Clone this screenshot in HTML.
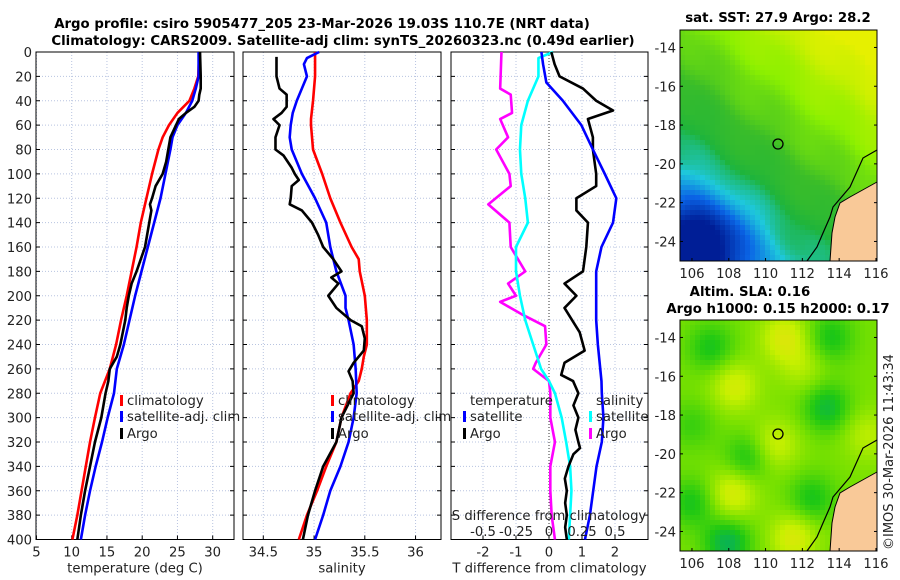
<!DOCTYPE html>
<html><head><meta charset="utf-8">
<style>
html,body{margin:0;padding:0;background:#fff;}
svg{display:block;font-family:"DejaVu Sans","Liberation Sans",sans-serif;}
.t{font-size:13.2px;fill:#222;}
.b{font-size:13.3px;font-weight:bold;fill:#000;}
.grid line{stroke:#b8c4e0;stroke-width:1;stroke-dasharray:1 2;}
</style></head><body>
<svg id="c" width="900" height="580" viewBox="0 0 900 580">
<text class="b" x="322" y="28" text-anchor="middle">Argo profile: csiro 5905477_205 23-Mar-2026 19.03S 110.7E (NRT data)</text>
<text class="b" x="343" y="45" text-anchor="middle">Climatology: CARS2009. Satellite-adj clim: synTS_20260323.nc (0.49d earlier)</text>
<g id="p1"></g>
<g id="p2"></g>
<g id="p3"></g>
<g id="m1"></g>
<g id="m2"></g>
<text class="b" x="778" y="22" text-anchor="middle">sat. SST: 27.9 Argo: 28.2</text>
<text class="b" x="750" y="296" text-anchor="middle">Altim. SLA: 0.16</text>
<text class="b" x="778" y="313" text-anchor="middle">Argo h1000: 0.15 h2000: 0.17</text>
<text class="t" x="0" y="0" transform="translate(893,550) rotate(-90)" style="font-size:13px">©IMOS 30-Mar-2026 11:43:34</text>
</svg>
<script>
const depths=[0,20,30,40,50,60,70,80,100,120,140,160,180,200,220,240,260,280,300,320,340,360,380,400];
const tClim=[28.1,27.95,27.4,26.7,25,23.8,22.9,22.3,21.4,20.6,19.8,19.2,18.5,17.8,17.0,16.3,15.4,14.05,13.3,12.6,12.0,11.4,10.8,10.1];
const tSat=[28,28,27.6,27.1,26.2,25,24.3,24,23.3,22.6,21.7,20.8,19.9,19.0,18.2,17.4,16.4,16.0,15.1,14.3,13.4,12.6,11.9,11.3];
const argoDepths=[0,20,30,35,40,45,50,55,60,70,80,90,100,110,120,125,130,140,160,175,180,190,195,200,210,220,240,250,260,270,280,300,320,340,360,380,400];
const tArgo=[28.2,28.3,28.3,28.1,28,27.4,26.2,25.2,24.8,24,23.7,23.4,22.9,21.9,21.4,21.1,21.3,21,20.4,19.5,19.2,18.5,18.3,18.1,17.8,17.6,16.9,16.4,15.4,15.2,14.8,14.2,13.3,12.6,11.9,11.3,10.8];
const sClimDepths=[0,20,40,55,60,80,100,120,140,160,170,180,200,220,240,250,260,270,280,300,320,340,360,380,400];
const sClim=[35.01,35.01,34.99,34.97,34.97,34.99,35.08,35.16,35.26,35.37,35.44,35.45,35.5,35.52,35.52,35.49,35.47,35.44,35.36,35.27,35.22,35.12,35.03,34.93,34.85];
const sSatDepths=[0,5,10,20,30,40,50,60,70,80,100,120,140,160,180,200,210,220,240,260,280,300,320,340,360,380,400];
const sSat=[35.05,34.93,34.9,34.93,34.88,34.83,34.79,34.77,34.76,34.78,34.88,35.01,35.12,35.16,35.22,35.31,35.31,35.34,35.39,35.41,35.42,35.39,35.34,35.26,35.16,35.09,35.01];
const sArgoDepths=[4,20,30,35,45,50,55,60,70,80,85,95,100,105,110,120,125,130,140,150,160,170,180,185,190,200,210,220,225,235,245,255,262,270,280,300,320,340,360,380,400];
const sArgo=[34.63,34.63,34.66,34.73,34.73,34.68,34.6,34.66,34.62,34.62,34.7,34.78,34.81,34.85,34.78,34.77,34.76,34.88,34.98,35.04,35.09,35.19,35.27,35.17,35.24,35.14,35.22,35.36,35.47,35.5,35.49,35.39,35.34,35.38,35.39,35.27,35.22,35.09,35.01,34.94,34.89];
const dSArgoDepths=[0,30,35,50,55,70,80,100,110,125,140,160,180,190,200,205,215,225,240,255,260,270,280,300,320,340,360,380,400];
const dSArgo=[-0.36,-0.37,-0.29,-0.28,-0.37,-0.31,-0.4,-0.3,-0.29,-0.46,-0.3,-0.29,-0.18,-0.31,-0.25,-0.37,-0.21,-0.03,-0.02,-0.1,-0.12,0,0.01,0.01,0.045,0.01,0.01,0.02,0.045];
const dSSatDepths=[0,5,20,40,60,80,100,120,140,160,180,200,220,240,260,270,280,300,320,340,360,380,400];
const dSSat=[0.03,-0.08,-0.08,-0.16,-0.21,-0.22,-0.21,-0.18,-0.16,-0.25,-0.25,-0.22,-0.18,-0.12,-0.06,0,0.045,0.096,0.13,0.16,0.17,0.16,0.15];
const dTArgoDepths=[0,10,20,30,40,48,55,70,80,100,110,120,130,140,160,180,190,200,210,230,245,255,265,270,280,290,300,310,320,325,330,340,350,360,370,380,390,400];
const dTArgo=[0.07,0.17,0.32,1.03,1.43,1.94,1.18,1.33,1.33,1.43,1.43,0.83,0.83,1.18,1.13,1.03,0.47,0.83,0.47,0.93,1.08,0.47,0.37,0.73,0.89,0.74,0.89,0.8,0.89,0.94,0.74,0.59,0.48,0.54,0.49,0.54,0.49,0.54];
const dTSatDepths=[0,10,25,40,60,80,100,120,140,160,180,200,220,240,270,280,300,320,340,360,380,400];
const dTSat=[-0.23,-0.18,-0.08,0.42,0.98,1.33,1.69,2.04,1.94,1.59,1.43,1.43,1.43,1.48,1.59,1.6,1.65,1.6,1.44,1.34,1.24,1.09];
const depthTicks=[0,20,40,60,80,100,120,140,160,180,200,220,240,260,280,300,320,340,360,380,400];
const tTicks=[5,10,15,20,25,30];
const sTicks=[34.5,35,35.5,36];
const dTTicks=[-2,-1,0,1,2];
const dSTicks=[-0.5,-0.25,0,0.25,0.5];

const NS="http://www.w3.org/2000/svg";
function mk(p,tag,at){const e=document.createElementNS(NS,tag);for(const k in at)e.setAttribute(k,at[k]);p.appendChild(e);return e;}
const Y0=52,Y1=539.5;
const yS=d=>Y0+d*(Y1-Y0)/400;
function panel(g,x0,x1,xs,xticks,fmt,label,showY){
  const gr=mk(g,'g',{class:'grid'});
  xticks.forEach(v=>{mk(gr,'line',{x1:xs(v),x2:xs(v),y1:Y0,y2:Y1});});
  depthTicks.forEach(d=>{mk(gr,'line',{x1:x0,x2:x1,y1:yS(d),y2:yS(d)});});
  mk(g,'rect',{x:x0,y:Y0,width:x1-x0,height:Y1-Y0,fill:'none',stroke:'#000','stroke-width':1});
  depthTicks.forEach(d=>{mk(g,'line',{x1:x0,x2:x0+4,y1:yS(d),y2:yS(d),stroke:'#000'});mk(g,'line',{x1:x1,x2:x1-4,y1:yS(d),y2:yS(d),stroke:'#000'});
    if(showY){const t=mk(g,'text',{x:x0-4,y:yS(d)+5,class:'t','text-anchor':'end'});t.textContent=d;}});
  xticks.forEach(v=>{mk(g,'line',{x1:xs(v),x2:xs(v),y1:Y1,y2:Y1-4,stroke:'#000'});
    const t=mk(g,'text',{x:xs(v),y:Y1+17,class:'t','text-anchor':'middle'});t.textContent=fmt(v);});
  if(label){const t=mk(g,'text',{x:(x0+x1)/2,y:Y1+33,class:'t','text-anchor':'middle'});t.textContent=label;}
}
function line(g,xs,vals,ds,color,name){
  const p=mk(g,'polyline',{points:vals.map((v,i)=>xs(v)+','+yS(ds[i])).join(' '),fill:'none',stroke:color,'stroke-width':2.6,'stroke-linejoin':'round'});
  
  
}
function legend(g,x,y,color,txt,name){
  mk(g,'rect',{x:x,y:y-10,width:3,height:11,fill:color});
  const t=mk(g,'text',{x:x+7,y:y,class:'t'});t.textContent=txt;
  
  
}
const p1=document.getElementById('p1');
const xT=v=>71.7+(v-10)*7.05;
panel(p1,36,234,xT,tTicks,v=>v,'temperature (deg C)',true);
line(p1,xT,tClim,depths,'#f00','temp-climatology-line');
line(p1,xT,tSat,depths,'#00f','temp-satellite-line');
line(p1,xT,tArgo,argoDepths,'#000','temp-argo-line');
legend(p1,120,405,'#f00','climatology','legend-climatology');
legend(p1,120,421,'#00f','satellite-adj. clim','legend-satellite');
legend(p1,120,438,'#000','Argo','legend-argo');
const p2=document.getElementById('p2');
const xSal=v=>263.3+(v-34.5)*101.5;
panel(p2,243,441,xSal,sTicks,v=>v,'salinity',false);
line(p2,xSal,sClim,sClimDepths,'#f00','sal-climatology-line');
line(p2,xSal,sSat,sSatDepths,'#00f','sal-satellite-line');
line(p2,xSal,sArgo,sArgoDepths,'#000','sal-argo-line');
legend(p2,331,405,'#f00','climatology','legend-sal-climatology');
legend(p2,331,421,'#00f','satellite-adj. clim','legend-sal-satellite');
legend(p2,331,438,'#000','Argo','legend-sal-argo');
const p3=document.getElementById('p3');
const xdT=v=>549+v*33, xdS=v=>549+v*132;
panel(p3,451,648,xdT,dTTicks,v=>v,'T difference from climatology',false);
mk(p3,'line',{x1:549,x2:549,y1:Y0,y2:Y1,stroke:'#333','stroke-dasharray':'1 2'});
line(p3,xdS,dSArgo,dSArgoDepths,'#f0f','sal-diff-argo-line');
line(p3,xdS,dSSat,dSSatDepths,'#0ff','sal-diff-satellite-line');
line(p3,xdT,dTArgo,dTArgoDepths,'#000','temp-diff-argo-line');
line(p3,xdT,dTSat,dTSatDepths,'#00f','temp-diff-satellite-line');
{const t=mk(p3,'text',{x:549,y:520,class:'t','text-anchor':'middle'});t.textContent='S difference from climatology';}
dSTicks.forEach(v=>{const t=mk(p3,'text',{x:xdS(v),y:536,class:'t','text-anchor':'middle'});t.textContent=v;});
{const t=mk(p3,'text',{x:470,y:405,class:'t'});t.textContent='temperature';const u=mk(p3,'text',{x:596,y:405,class:'t'});u.textContent='salinity';}
legend(p3,463,421,'#00f','satellite','legend-diff-t-satellite');
legend(p3,463,438,'#000','Argo','legend-diff-t-argo');
legend(p3,589,421,'#0ff','satellite','legend-diff-s-satellite');
legend(p3,589,438,'#f0f','Argo','legend-diff-s-argo');

function lerpC(stops,v){v=Math.max(0,Math.min(1,v));for(let i=1;i<stops.length;i++){if(v<=stops[i][0]){const a=stops[i-1],b=stops[i],f=(v-a[0])/(b[0]-a[0]);return 'rgb('+[0,1,2].map(k=>Math.round(a[1][k]+(b[1][k]-a[1][k])*f)).join(',')+')';}}return 'rgb('+stops[stops.length-1][1].join(',')+')';}
function map(id,top,field,stops){
  const g=document.getElementById(id);
  const X0=680,X1=877,bot=top+231;
  const lon=x=>105.35+(x-X0)/18.4, lat=y=>-13.1-(y-top)/19.4;
  const s=5;
  for(let y=top;y<bot;y+=s)for(let x=X0;x<X1;x+=s){
    mk(g,'rect',{x:x,y:y,width:Math.min(s,X1-x),height:Math.min(s,bot-y),fill:lerpC(stops,field(lon(x+2),lat(y+2)))});
  }
  const dy=top-30;
  mk(g,'polygon',{points:`877,${182+dy} 850,${197+dy} 840,${203+dy} 835,${217+dy} 832,${233+dy} 830,${bot} 877,${bot}`,fill:'#f9c998',stroke:'#000','stroke-width':1});
  mk(g,'polyline',{points:`877,${150+dy} 863,${158+dy} 850,${187+dy} 833,${207+dy} 830,${217+dy} 823,${233+dy} 817,${247+dy} 807,${bot}`,fill:'none',stroke:'#000','stroke-width':1.2});
  mk(g,'rect',{x:X0,y:top,width:X1-X0,height:231,fill:'none',stroke:'#000'});
  mk(g,'circle',{cx:778,cy:top+114,r:5,fill:'none',stroke:'#000','stroke-width':1.3});
  [-14,-16,-18,-20,-22,-24].forEach(la=>{const y=top+(-13.1-la)*19.4;mk(g,'line',{x1:X0,x2:X0+3,y1:y,y2:y,stroke:'#000'});mk(g,'line',{x1:X1,x2:X1-3,y1:y,y2:y,stroke:'#000'});const t=mk(g,'text',{x:X0-4,y:y+5,class:'t','text-anchor':'end'});t.textContent=la;});
  [106,108,110,112,114,116].forEach(lo=>{const x=X0+(lo-105.35)*18.4;mk(g,'line',{x1:x,x2:x,y1:bot,y2:bot-3,stroke:'#000'});const t=mk(g,'text',{x:x,y:bot+17,class:'t','text-anchor':'middle'});t.textContent=lo;});
}
const sstStops=[[0,[0,30,150]],[0.2,[10,100,230]],[0.38,[30,200,220]],[0.5,[30,180,60]],[0.62,[60,190,40]],[0.8,[140,240,0]],[1,[230,240,0]]];
map('m1',30,(lo,la)=>{const sw=Math.exp(-((lo-106.5)**2/6+(la+24)**2/5));return 0.62+0.035*(lo-110)+0.045*(la+19)-0.4*sw+0.03*Math.sin(lo*1.7+la)*Math.cos(la*1.3);},sstStops);
const slaStops=[[0,[0,170,110]],[0.25,[30,200,20]],[0.5,[120,225,0]],[0.75,[200,240,0]],[1,[240,220,20]]];
const blobs=[[111,-14,1],[108.3,-16.5,0.9],[110.5,-19.5,0.8],[108.2,-22,1],[111.5,-24.3,1],[115.5,-19,0.6],[112,-15.5,0.5],[107,-14.5,-0.8],[113.5,-14,-0.8],[113.3,-17.6,-1],[109,-20.2,-0.8],[106,-22.5,-0.8],[107.9,-24.6,-1.2],[112.5,-22.3,-0.8],[106,-18.5,-0.5]];
map('m2',320,(lo,la)=>{let v=0.5;blobs.forEach(b=>{v+=0.35*b[2]*Math.exp(-((lo-b[0])**2+(la-b[1])**2)/1.6);});return v;},slaStops);
</script>
</body></html>
